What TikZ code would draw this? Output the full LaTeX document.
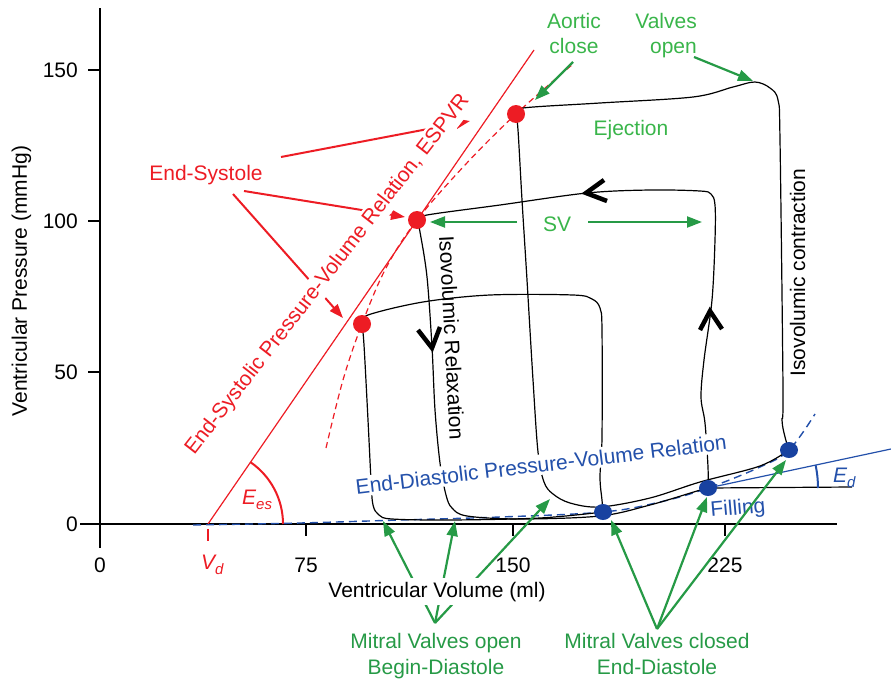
\documentclass[tikz,border=0pt]{standalone}
\usepackage{fontspec}
\setmainfont{Liberation Sans}
\usetikzlibrary{arrows.meta}
\definecolor{espred}{RGB}{237,28,36}
\definecolor{litgreen}{RGB}{57,181,74}
\definecolor{drkgreen}{RGB}{38,154,70}
\definecolor{edblue}{RGB}{35,80,170}
\definecolor{dotblue}{RGB}{24,66,160}
\begin{document}
\begin{tikzpicture}[x=1pt,y=-1pt,
  every node/.style={font=\fontsize{21}{25}\selectfont, inner sep=0pt},
  axisline/.style={black, line width=1.3pt},
  loopline/.style={black, line width=1.2pt},
  chev/.style={black, line width=4.5pt, line join=miter},
  redarrow/.style={espred, line width=2pt, -{Triangle[length=14pt,width=10pt]}},
  grnarrow/.style={drkgreen, line width=2.2pt, -{Triangle[length=15pt,width=11pt]}},
  whitebox/.style={fill=white, inner sep=2.5pt}
]
\useasboundingbox (0,0) rectangle (891,680);

% ---------- axes ----------
\coordinate (ytop) at (100,8);
\coordinate (ybot) at (100,548);
\coordinate (xl) at (80,524);
\coordinate (xr) at (837,524);
\draw[axisline] (ytop) -- (ybot);
\draw[axisline] (xl) -- (xr);
\foreach \yy/\lab in {70/150,221/100,372/50,524/0}{
  \draw[axisline] (88,\yy) -- (100,\yy);
  \node[anchor=east] (yt\lab) at (78,\yy) {\lab};
}
\foreach \xx/\lab in {306/75,513/150,725/225}{
  \draw[axisline] (\xx,524) -- (\xx,536);
  \node[anchor=base] (xt\lab) at (\xx,572) {\lab};
}
\node[anchor=base] (xt0) at (100,572) {0};
\draw[espred, line width=1.3pt] (208,529) -- (208,541);
\node[anchor=base west, text=espred] (vd) at (201,569) {\itshape V\raisebox{-0.25em}{\fontsize{15}{15}\selectfont d}};

\node[anchor=base, rotate=90] (ylab) at (27,281) {Ventricular Pressure (mmHg)};

% ---------- key points ----------
\coordinate (Vd) at (208,524);
\coordinate (R1) at (362,324);
\coordinate (R2) at (417,220);
\coordinate (R3) at (516,114);
\coordinate (B1) at (603,512);
\coordinate (B2) at (708,488);
\coordinate (B3) at (789,450);
\coordinate (EdArc) at (818,488);
\coordinate (EesArc) at (283,524);

% ---------- ESPVR ----------
\draw[espred, line width=1.2pt] (Vd) -- (534,50);
\draw[espred, line width=1.2pt, dash pattern=on 6pt off 4pt]
  plot[smooth, tension=0.6] coordinates {(326,448) (343,380) (R1) (386,268) (R2) (465,165) (R3) (573,64)};
\draw[espred, line width=2pt] (EesArc) arc[start angle=0, end angle=-55.5, radius=75];
\node[anchor=base west, text=espred] (ees) at (242,504) {\itshape E\raisebox{-0.25em}{\fontsize{15}{15}\selectfont es}};

% ---------- EDPVR ----------
\draw[edblue, line width=1.4pt, dash pattern=on 8pt off 5pt]
  plot[smooth, tension=0.6] coordinates {(193,525) (300,523) (400,520) (500,517) (B1) (660,502) (B2) (760,467) (B3) (815,414)};
\draw[edblue, line width=1.2pt] (B2) -- (891,449);
\draw[loopline] (B2) -- (852,487);
\draw[edblue, line width=2pt] (EdArc) arc[start angle=0, end angle=-12, radius=110];
\node[anchor=base west, text=edblue] (ed) at (833,482) {\itshape E\raisebox{-0.25em}{\fontsize{15}{15}\selectfont d}};

% ---------- loops ----------
% small loop
\draw[loopline] plot[smooth, tension=0.55] coordinates {(R1) (368,315) (423,302) (490,295) (573,295) (592,299) (600,308) (602,330) (602,437) (600,477) (602,500) (B1)};
\draw[loopline] plot[smooth, tension=0.55] coordinates {(R1) (364,345) (368,420) (371,480) (373,505) (379,515) (392,519) (450,520) (540,518) (B1)};
% middle loop
\draw[loopline] plot[smooth, tension=0.55] coordinates {(R2) (427,215) (500,205) (587,193) (650,190) (700,191) (711,194) (715,205) (715,240) (712,300) (704,360) (701,397) (705,423) (708,467) (B2)};
\draw[loopline] plot[smooth, tension=0.55] coordinates {(R2) (420,232) (427,277) (432,347) (435,410) (440,463) (446,495) (452,508) (467,516) (520,519) (600,516) (650,505) (697,491) (B2)};
% large loop
\draw[loopline] plot[smooth, tension=0.55] coordinates {(R3) (523,108) (600,103) (693,97) (733,87) (755,82) (770,88) (778,100) (780,140) (783,390) (782,420) (785,437) (B3)};
\draw[loopline] plot[smooth, tension=0.55] coordinates {(R3) (518,130) (522,200) (527,280) (533,380) (538,452) (544,482) (553,494) (570,503) (600,507) (650,498) (700,482) (760,466) (B3)};

% direction chevrons
\draw[chev] (604,180) -- (586,193) -- (607,201);
\draw[chev] (700,330) -- (710,311) -- (722,329);
\draw[chev] (418,330) -- (432,348) -- (440,327);

% ---------- dots ----------
\foreach \p in {R1,R2,R3}{ \fill[espred] (\p) circle[radius=9]; }
\foreach \p in {B1,B2,B3}{ \fill[dotblue] (\p) ellipse[x radius=9, y radius=8]; }

% ---------- End-Systole arrows and ESPVR label ----------
\node[anchor=base, text=espred] (es) at (206,180) {End-Systole};
\draw[redarrow] (281,157) -- (470,121);
\draw[redarrow] (244,191) -- (405,217);
\draw[redarrow] (233,194) -- (343,318);
\node[anchor=base, rotate=52.2, text=espred, whitebox] (espvr) at (332,278) {End-Systolic Pressure-Volume Relation, ESPVR};

\node[anchor=base, rotate=6.9, text=edblue, whitebox] (edpvr) at (542,472) {End-Diastolic Pressure-Volume Relation};

% ---------- phase labels ----------
\node[anchor=base, rotate=-87, text=black] (isorel) at (444.5,338) {Isovolumic Relaxation};
\node[anchor=base, rotate=90, text=black] (isocon) at (805,272.5) {Isovolumic contraction};
\node[anchor=base west, rotate=5, text=edblue] (filling) at (711,517) {Filling};

% ---------- green labels / arrows ----------
\node[anchor=base, text=litgreen] (aor1) at (574,28) {Aortic};
\node[anchor=base, text=litgreen] (aor2) at (574,53) {close};
\draw[grnarrow] (573,62) -- (535,100);
\node[anchor=base east, text=litgreen] (vo1) at (697,28) {Valves};
\node[anchor=base east, text=litgreen] (vo2) at (697,53) {open};
\draw[grnarrow] (694,57) -- (753,81);
\node[anchor=base, text=litgreen] (ejec) at (631,135) {Ejection};
\node[anchor=base, text=litgreen] (sv) at (557,231) {SV};
\draw[grnarrow] (517,222) -- (430,222);
\draw[grnarrow] (588,222) -- (702,222);

\coordinate (mo) at (435,623);
\draw[grnarrow] (mo) -- (383,521);
\draw[grnarrow] (mo) -- (455,521);
\draw[grnarrow] (mo) -- (550,499);
\coordinate (mc) at (657,629);
\draw[grnarrow] (mc) -- (611,520);
\draw[grnarrow] (mc) -- (707,497);
\draw[grnarrow] (mc) -- (786,460);

\node[anchor=base, whitebox, inner sep=3.5pt] (xlab) at (437,597) {Ventricular Volume (ml)};

\node[anchor=base, text=drkgreen] (mo1) at (436,648) {Mitral Valves open};
\node[anchor=base, text=drkgreen] (mo2) at (436,674) {Begin-Diastole};
\node[anchor=base, text=drkgreen] (mc1) at (657,648) {Mitral Valves closed};
\node[anchor=base, text=drkgreen] (mc2) at (657,674) {End-Diastole};
\end{tikzpicture}
\end{document}
